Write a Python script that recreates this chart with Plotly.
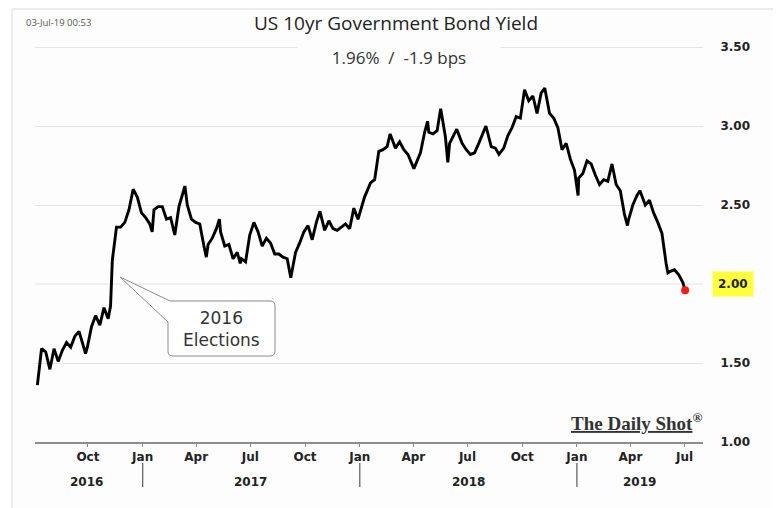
import plotly.graph_objects as go

# ---------------- data ----------------
dates = [
    "2016-07-08", "2016-07-15", "2016-07-22", "2016-07-29", "2016-08-05", "2016-08-12",
    "2016-08-19", "2016-08-26", "2016-09-02", "2016-09-09", "2016-09-16", "2016-09-23",
    "2016-09-27", "2016-09-30", "2016-10-07", "2016-10-14", "2016-10-21", "2016-10-28",
    "2016-11-04", "2016-11-08", "2016-11-11", "2016-11-18", "2016-11-25", "2016-12-02",
    "2016-12-09", "2016-12-16", "2016-12-23", "2016-12-30",
    "2017-01-06", "2017-01-13", "2017-01-17", "2017-01-20", "2017-01-27", "2017-02-03",
    "2017-02-10", "2017-02-17", "2017-02-24", "2017-03-03", "2017-03-13", "2017-03-17",
    "2017-03-24", "2017-03-31", "2017-04-07", "2017-04-14", "2017-04-18", "2017-04-21",
    "2017-04-28", "2017-05-05", "2017-05-10", "2017-05-12", "2017-05-19", "2017-05-26",
    "2017-06-02", "2017-06-09", "2017-06-14", "2017-06-16", "2017-06-23", "2017-06-30",
    "2017-07-07", "2017-07-14", "2017-07-21", "2017-07-28", "2017-08-04", "2017-08-11",
    "2017-08-18", "2017-08-25", "2017-09-01", "2017-09-07", "2017-09-15", "2017-09-22",
    "2017-09-29", "2017-10-06", "2017-10-13", "2017-10-20", "2017-10-26", "2017-11-03",
    "2017-11-10", "2017-11-17", "2017-11-24", "2017-12-01", "2017-12-08", "2017-12-15",
    "2017-12-22", "2017-12-29",
    "2018-01-02", "2018-01-09", "2018-01-19", "2018-01-26", "2018-02-02", "2018-02-09",
    "2018-02-16", "2018-02-21", "2018-03-02", "2018-03-09", "2018-03-16", "2018-03-23",
    "2018-04-02", "2018-04-06", "2018-04-13", "2018-04-20", "2018-04-25", "2018-04-27",
    "2018-05-04", "2018-05-11", "2018-05-17", "2018-05-25", "2018-05-29", "2018-06-01",
    "2018-06-08", "2018-06-13", "2018-06-22", "2018-06-29", "2018-07-06", "2018-07-13",
    "2018-07-20", "2018-07-27", "2018-08-01", "2018-08-10", "2018-08-17", "2018-08-23",
    "2018-08-31", "2018-09-07", "2018-09-14", "2018-09-21", "2018-09-28", "2018-10-05",
    "2018-10-12", "2018-10-19", "2018-10-26", "2018-11-02", "2018-11-08", "2018-11-16",
    "2018-11-23", "2018-11-30", "2018-12-07", "2018-12-14", "2018-12-21", "2018-12-28",
    "2019-01-03", "2019-01-04", "2019-01-11", "2019-01-18", "2019-01-25", "2019-02-01",
    "2019-02-08", "2019-02-15", "2019-02-22", "2019-03-01", "2019-03-08", "2019-03-15",
    "2019-03-22", "2019-03-27", "2019-03-29", "2019-04-05", "2019-04-12", "2019-04-17",
    "2019-04-26", "2019-05-03", "2019-05-10", "2019-05-17", "2019-05-24", "2019-05-31",
    "2019-06-03", "2019-06-07", "2019-06-14", "2019-06-21", "2019-06-28", "2019-07-02",
]
yields = [
    1.36, 1.59, 1.57, 1.46, 1.59, 1.51,
    1.58, 1.63, 1.60, 1.67, 1.70, 1.62,
    1.56, 1.60, 1.73, 1.80, 1.74, 1.85,
    1.78, 1.86, 2.15, 2.36, 2.36, 2.39,
    2.47, 2.60, 2.55, 2.45,
    2.42, 2.38, 2.33, 2.47, 2.49, 2.49,
    2.41, 2.42, 2.31, 2.49, 2.62, 2.50,
    2.41, 2.39, 2.38, 2.24, 2.17, 2.25,
    2.29, 2.35, 2.41, 2.33, 2.24, 2.25,
    2.16, 2.20, 2.13, 2.16, 2.14, 2.31,
    2.39, 2.33, 2.24, 2.29, 2.26, 2.19,
    2.19, 2.17, 2.16, 2.04, 2.20, 2.26,
    2.33, 2.37, 2.28, 2.39, 2.46, 2.34,
    2.40, 2.35, 2.34, 2.36, 2.38, 2.35,
    2.48, 2.41,
    2.46, 2.55, 2.64, 2.66, 2.84, 2.85,
    2.87, 2.95, 2.86, 2.90, 2.85, 2.82,
    2.73, 2.77, 2.83, 2.96, 3.03, 2.96,
    2.95, 2.97, 3.11, 2.93, 2.77, 2.89,
    2.94, 2.98, 2.89, 2.85, 2.82, 2.83,
    2.89, 2.96, 3.00, 2.87, 2.86, 2.82,
    2.86, 2.94, 2.99, 3.06, 3.05, 3.23,
    3.16, 3.19, 3.08, 3.21, 3.24, 3.08,
    3.05, 2.99, 2.85, 2.89, 2.79, 2.72,
    2.56, 2.67, 2.70, 2.78, 2.76, 2.69,
    2.63, 2.66, 2.65, 2.76, 2.63, 2.59,
    2.44, 2.37, 2.41, 2.50, 2.56, 2.59,
    2.50, 2.53, 2.45, 2.39, 2.32, 2.13,
    2.07, 2.08, 2.09, 2.06, 2.01, 1.96,
]

x_tick_dates = ["2016-10-01", "2017-01-01", "2017-04-01", "2017-07-01", "2017-10-01",
                "2018-01-01", "2018-04-01", "2018-07-01", "2018-10-01", "2019-01-01",
                "2019-04-01", "2019-07-01"]
x_tick_labels = ["Oct", "Jan", "Apr", "Jul", "Oct", "Jan", "Apr", "Jul", "Oct", "Jan", "Apr", "Jul"]
year_labels = ["2016", "2017", "2018", "2019"]
year_label_dates = ["2016-09-29", "2017-07-02", "2018-07-03", "2019-04-16"]
year_separators = ["2017-01-01", "2018-01-01", "2019-01-01"]
y_ticks = [1.0, 1.5, 2.5, 3.0, 3.5]
y_tick_labels = ["1.00", "1.50", "2.50", "3.00", "3.50"]
highlight_value = 2.0
highlight_label = "2.00"

title_text = "US 10yr Government Bond Yield"
subtitle_text = "1.96%&nbsp;&nbsp;/&nbsp;&nbsp;-1.9 bps"
timestamp_text = "03-Jul-19 00:53"
callout_text = "2016<br>Elections"

# ---------------- layout geometry ----------------
# page is offset by the default 8px body margin; work in page pixels
OFF = 8
W, H = 781 - OFF, 508 - OFF
PLOT_L, PLOT_R, PLOT_T, PLOT_B = 35, 703, 38, 442   # page pixels of the plot area
L, T = PLOT_L - OFF, PLOT_T - OFF
R, B = W - (PLOT_R - OFF), H - (PLOT_B - OFF)
PW, PH = PLOT_R - PLOT_L, PLOT_B - PLOT_T


def px_x(px):
    return (px - PLOT_L) / PW


def px_y(py):
    return (PLOT_B - py) / PH


fig = go.Figure()
fig.add_trace(go.Scatter(x=dates, y=yields, mode="lines",
                         line=dict(color="#000000", width=2.9), hoverinfo="x+y"))
fig.add_trace(go.Scatter(x=[dates[-1]], y=[yields[-1]], mode="markers",
                         marker=dict(color="#ff1a1a", size=8)))

shapes = []
# outer frame
shapes.append(dict(type="rect", xref="paper", yref="paper",
                   x0=px_x(12), x1=px_x(777), y0=px_y(515), y1=px_y(9),
                   line=dict(color="#dcdcdc", width=1), fillcolor="#fdfdfd", layer="below"))
# gridline for the highlighted level
shapes.append(dict(type="line", xref="paper", yref="y", x0=0, x1=1,
                   y0=highlight_value, y1=highlight_value,
                   line=dict(color="#e4e4e4", width=1), layer="below"))
# year separators
for d in year_separators:
    shapes.append(dict(type="line", xref="x", yref="paper", x0=d, x1=d,
                       y0=px_y(463), y1=px_y(487), line=dict(color="#666666", width=1.3)))


def P(x, y):
    return f"{px_x(x):.5f},{px_y(y):.5f}"


callout_path = (f"M {P(173,301)} L {P(270,301)} Q {P(275,301)} {P(275,306)} "
                f"L {P(275,351)} Q {P(275,356)} {P(270,356)} L {P(173,356)} "
                f"Q {P(168,356)} {P(168,351)} L {P(168,322)} L {P(120,277)} L {P(170,301)} Z")
shapes.append(dict(type="path", xref="paper", yref="paper", path=callout_path,
                   line=dict(color="#8a8a8a", width=1), fillcolor="#ffffff", layer="above"))

annotations = []


def ann(**kw):
    kw.setdefault("showarrow", False)
    kw.setdefault("xanchor", "center")
    kw.setdefault("yanchor", "middle")
    annotations.append(kw)


ann(xref="paper", yref="paper", x=px_x(396), y=px_y(23), text=title_text, borderpad=0,
    font=dict(family="Open Sans", size=19, color="#222222"))
ann(xref="paper", yref="paper", x=px_x(399), y=px_y(57), text=subtitle_text,
    width=200, bgcolor="#fdfdfd",
    font=dict(family="Open Sans", size=17, color="#333333"))
ann(xref="paper", yref="paper", x=px_x(24), y=px_y(23), text=timestamp_text, xanchor="left",
    font=dict(family="Open Sans", size=9.5, color="#555555"))
ann(xref="paper", yref="paper", x=px_x(221.5), y=px_y(328.5), text=callout_text,
    font=dict(family="DejaVu Sans", size=17, color="#333333"))
ann(xref="paper", yref="paper", x=px_x(636), y=px_y(422),
    text="<u>The Daily Shot</u><sup>®</sup>",
    font=dict(family="Liberation Serif", size=19, color="#333333", weight="bold"))
# highlighted 2.00 label
ann(xref="paper", yref="y", x=px_x(732.5), y=highlight_value, text=highlight_label,
    bgcolor="#ffff3c", borderpad=5,
    font=dict(family="DejaVu Sans", size=12, color="#222222", weight="bold"))
for lab, d in zip(year_labels, year_label_dates):
    ann(xref="x", yref="paper", x=d, y=px_y(482), text=lab,
        font=dict(family="DejaVu Sans", size=12, color="#222222", weight="bold"))

fig.update_layout(
    width=W, height=H,
    margin=dict(l=L, r=R, t=T, b=B, pad=0),
    paper_bgcolor="#ffffff", plot_bgcolor="rgba(0,0,0,0)",
    showlegend=False,
    shapes=shapes, annotations=annotations,
    xaxis=dict(
        type="date", range=["2016-07-04", "2019-08-01"],
        tickvals=x_tick_dates, ticktext=x_tick_labels,
        showgrid=False, zeroline=False,
        showline=True, linecolor="#8c8c8c", linewidth=1.5,
        ticks="outside", ticklen=3, tickcolor="#8c8c8c",
        tickfont=dict(family="DejaVu Sans", size=12, color="#222222", weight="bold"),
    ),
    yaxis=dict(
        side="right", range=[1.0, 1.0 + PH / 158.0],
        tickvals=y_ticks, ticktext=y_tick_labels,
        showgrid=True, gridcolor="#e4e4e4", gridwidth=1, zeroline=False,
        showline=False, ticks="outside", ticklen=14, tickcolor="rgba(0,0,0,0)",
        tickfont=dict(family="DejaVu Sans", size=12, color="#222222", weight="bold"),
    ),
)

fig.write_html("out.html")
